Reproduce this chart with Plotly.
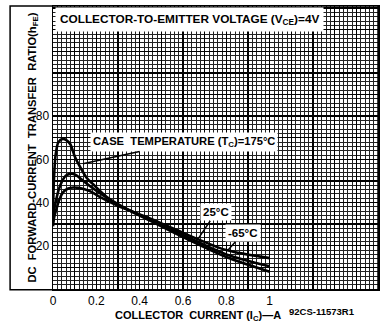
import plotly.graph_objects as go

# ---- data ----
x_175 = [0.0, 0.004, 0.012, 0.025, 0.045, 0.06, 0.08, 0.10, 0.125, 0.155, 0.185, 0.25, 0.35, 0.45, 0.6, 0.8, 1.0]
y_175 = [34, 50, 62, 68, 69.5, 69, 67, 61.5, 56.5, 51.5, 48.5, 42.5, 36.5, 31.5, 24, 14.8, 8]

x_25 = [0.0, 0.004, 0.012, 0.025, 0.04, 0.06, 0.088, 0.11, 0.14, 0.2, 0.3, 0.45, 0.6, 0.8, 1.0]
y_25 = [31, 36, 40, 45.5, 49.5, 52.5, 53.4, 52.5, 50, 45.5, 39, 32, 25, 16, 10.5]

x_m65 = [0.0, 0.005, 0.018, 0.03, 0.046, 0.07, 0.094, 0.12, 0.17, 0.22, 0.3, 0.45, 0.6, 0.8, 1.0]
y_m65 = [29, 33, 37.8, 41.5, 44.7, 46.5, 47, 46.8, 45.3, 42.4, 38.5, 32.5, 26, 18, 14.3]

x_tickvals = [0, 0.1, 0.2, 0.3, 0.4, 0.5, 0.6, 0.7, 0.8, 0.9, 1.0, 1.1, 1.2, 1.3, 1.4, 1.5]
x_ticktext = ["0", "", "0.2", "", "0.4", "", "0.6", "", "0.8", "", "1", "", "", "", "", ""]
y_tickvals = [0, 10, 20, 30, 40, 50, 60, 70, 80, 90, 100, 110, 120, 130]
y_ticktext = ["", "", "20", "", "40", "", "60", "", "80", "", "", "", "", ""]

FONT = "Liberation Sans"

fig = go.Figure()
for xs, ys in [(x_175, y_175), (x_25, y_25), (x_m65, y_m65)]:
    fig.add_trace(go.Scatter(x=xs, y=ys, mode="lines", line=dict(color="black", width=2.6, shape="spline", smoothing=0.8),
                             showlegend=False, hoverinfo="skip"))

axis_common = dict(showline=True, linecolor="black", linewidth=1.5, mirror=True, zeroline=False,
                   showgrid=True, gridcolor="black", gridwidth=1.4, ticks="",
                   tickfont=dict(family=FONT, size=12, color="black"))

fig.update_layout(
    width=387, height=324,
    margin=dict(l=53, r=9, t=4, b=35),
    paper_bgcolor="white", plot_bgcolor="white",
    hovermode=False,
    xaxis=dict(range=[0, 1.5], tickmode="array", tickvals=x_tickvals, ticktext=x_ticktext,
               minor=dict(tickmode="linear", tick0=0, dtick=0.02, showgrid=True, gridcolor="#222", gridwidth=1),
               **axis_common),
    yaxis=dict(range=[0, 131], tickmode="array", tickvals=y_tickvals, ticktext=y_ticktext,
               minor=dict(tickmode="linear", tick0=0, dtick=2, showgrid=True, gridcolor="#222", gridwidth=1),
               **axis_common),
)

# outer frame around y-title region
fig.add_shape(type="rect", xref="paper", yref="paper", x0=-0.132, x1=1.0, y0=-0.003, y1=1.0,
              line=dict(color="black", width=1.5), layer="above")

tf = dict(family=FONT, size=11.5, color="black")

# title box
fig.add_annotation(xref="paper", yref="paper", x=0.006, y=0.997, xanchor="left", yanchor="top",
                   text="<b>COLLECTOR-TO-EMITTER VOLTAGE (V<sub>CE</sub>)=4V</b>", showarrow=False,
                   bgcolor="white", borderpad=4, font=dict(family=FONT, size=11.8, color="black"), align="left")

# curve labels with leader lines
fig.add_annotation(x=0.138, y=58, ax=0.605, ay=68, axref="x", ayref="y", xref="x", yref="y",
                   text="<b>CASE  TEMPERATURE (T<sub>C</sub>)=175°C</b>", showarrow=True, arrowhead=0,
                   arrowwidth=1.5, arrowcolor="black", bgcolor="white", borderpad=2, font=dict(family=FONT, size=11.2, color="black"))
fig.add_annotation(x=0.665, y=22.5, ax=0.752, ay=35.5, axref="x", ayref="y", xref="x", yref="y",
                   text="<b>25°C</b>", showarrow=True, arrowhead=0,
                   arrowwidth=1.5, arrowcolor="black", bgcolor="white", borderpad=2, font=tf)
fig.add_annotation(x=0.808, y=18, ax=0.877, ay=25.8, axref="x", ayref="y", xref="x", yref="y",
                   text="<b>-65°C</b>", showarrow=True, arrowhead=0,
                   arrowwidth=1.5, arrowcolor="black", bgcolor="white", borderpad=2, font=tf)

# axis titles
fig.add_annotation(xref="paper", yref="paper", x=-0.092, y=0.5, textangle=-90, showarrow=False,
                   text="<b>DC  FORWARD-CURRENT  TRANSFER  RATIO(h<sub>FE</sub>)</b>", font=dict(family=FONT, size=11.2, color="black"))
fig.add_annotation(xref="paper", yref="paper", x=0.446, y=-0.095, showarrow=False, yanchor="middle",
                   text="<b>COLLECTOR  CURRENT (I<sub>C</sub>)—A</b>", font=dict(family=FONT, size=11, color="black"))
fig.add_annotation(xref="paper", yref="paper", x=0.935, y=-0.081, showarrow=False, yanchor="middle",
                   text="<b>92CS-11573R1</b>", font=dict(family=FONT, size=9.5, color="black"))

fig.write_html("out.html", config={"displayModeBar": False, "staticPlot": True},
               post_script="document.body.style.margin='0px';")
